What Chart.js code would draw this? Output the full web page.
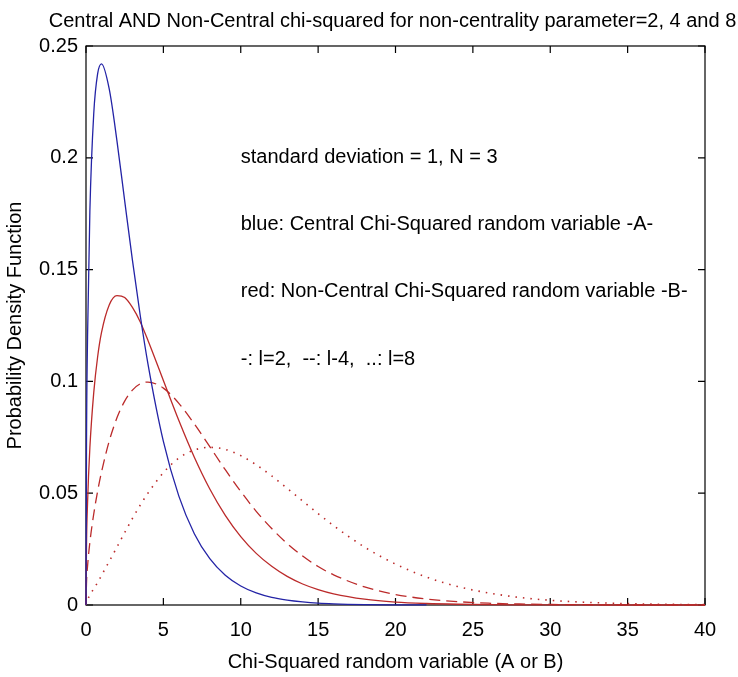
<!DOCTYPE html>
<html>
<head>
<meta charset="utf-8">
<script src="https://cdn.jsdelivr.net/npm/chart.js@4/dist/chart.umd.min.js"></script>
<style>
  html, body { margin: 0; padding: 0; background: #ffffff; }
  #c { display: block; }
</style>
</head>
<body>
<canvas id="c" width="738" height="677"></canvas>
<script>
// ---- data ----
const xValues = [0, 0.03, 0.1, 0.25, 0.5, 0.75, 1, 1.5, 2, 2.5, 3, 3.5, 4, 5, 6, 7, 8, 9, 10, 11, 12, 13, 14, 15, 16, 18, 20, 22, 24, 26, 28, 30, 32, 34, 36, 38, 40];

// blue: central chi-squared (A)
const centralA = [0, 0.0681, 0.1200, 0.1760, 0.2197, 0.2375, 0.2420, 0.2308, 0.2076, 0.1807, 0.1542, 0.1297, 0.1080, 0.0732, 0.0487, 0.0319, 0.0207, 0.0133, 0.0085, 0.0054, 0.0034, 0.0022, 0.0014, 0.00085, 0.00054, 0.00021, 0.00008, 0.00003, null, null, null, null, null, null, null, null, null];

// red solid: non-central, l = 2
const nonCentralL2 = [0, 0.0253, 0.0456, 0.0703, 0.0950, 0.1109, 0.1218, 0.1342, 0.1384, 0.1375, 0.1331, 0.1267, 0.1184, 0.1004, 0.0825, 0.0661, 0.0519, 0.0401, 0.0306, 0.0231, 0.0173, 0.0128, 0.0094, 0.0069, 0.0050, 0.0026, 0.0013, 0.00066, 0.00033, 0.00016, 0.00008, 0.00004, 0.00002, 0.00001, 0, 0, 0];

// red dashed: non-central, l = 4
const nonCentralL4 = [0, 0.0094, 0.0173, 0.0280, 0.0407, 0.0508, 0.0594, 0.0733, 0.0837, 0.0912, 0.0961, 0.0989, 0.0997, 0.0970, 0.0902, 0.0810, 0.0708, 0.0605, 0.0508, 0.0419, 0.0342, 0.0275, 0.0219, 0.0172, 0.0135, 0.0081, 0.0047, 0.0027, 0.0015, 0.0008, 0.00044, 0.00024, 0.00013, 0.00007, 0.00003, 0.00002, 0.00001];

// red dotted: non-central, l = 8
const nonCentralL8 = [0, 0.0013, 0.0025, 0.0044, 0.0073, 0.0100, 0.0132, 0.0195, 0.0259, 0.0324, 0.0387, 0.0446, 0.0500, 0.0592, 0.0657, 0.0693, 0.0705, 0.0696, 0.0668, 0.0627, 0.0577, 0.0522, 0.0465, 0.0409, 0.0355, 0.0259, 0.0183, 0.0125, 0.0083, 0.0054, 0.0034, 0.0021, 0.0013, 0.0008, 0.00046, 0.00027, 0.00016];

const xTickLabels = ['0', '5', '10', '15', '20', '25', '30', '35', '40'];
const yTickLabels = ['0', '0.05', '0.1', '0.15', '0.2', '0.25'];

const titleText = 'Central AND Non-Central chi-squared for non-centrality parameter=2, 4 and 8';
const xAxisTitle = 'Chi-Squared random variable (A or B)';
const yAxisTitle = 'Probability Density Function';

const noteLines = [
  'standard deviation = 1, N = 3',
  'blue: Central Chi-Squared random variable -A-',
  'red: Non-Central Chi-Squared random variable -B-',
  '-: l=2,  --: l-4,  ..: l=8'
];
const noteX = 10;
const noteY = [0.2, 0.17, 0.14, 0.11];

// ---- build ----
const FONT = '"Liberation Sans", Arial, Helvetica, sans-serif';
const FS = 20;
const BLUE = '#2323a6';
const RED = '#bb2a2a';

function pts(ys) {
  return xValues.map((x, i) => ({ x: x, y: ys[i] }));
}

const boxPlugin = {
  id: 'matlabBox',
  beforeDatasetsDraw(chart) {
    const { ctx, chartArea: a, scales } = chart;
    const xs = scales.x, ys = scales.y;
    ctx.save();
    ctx.strokeStyle = '#000';
    ctx.lineWidth = 1.2;
    ctx.strokeRect(a.left, a.top, a.right - a.left, a.bottom - a.top);
    const tl = 7;
    ctx.beginPath();
    xs.ticks.forEach(t => {
      const px = xs.getPixelForValue(t.value);
      ctx.moveTo(px, a.bottom); ctx.lineTo(px, a.bottom - tl);
      ctx.moveTo(px, a.top); ctx.lineTo(px, a.top + tl);
    });
    ys.ticks.forEach(t => {
      const py = ys.getPixelForValue(t.value);
      ctx.moveTo(a.left, py); ctx.lineTo(a.left + tl, py);
      ctx.moveTo(a.right, py); ctx.lineTo(a.right - tl, py);
    });
    ctx.stroke();
    ctx.restore();
  },
  afterDatasetsDraw(chart) {
    const { ctx, scales, chartArea: a } = chart;
    ctx.save();
    ctx.fillStyle = '#000';
    ctx.font = FS + 'px ' + FONT;
    ctx.textAlign = 'left';
    ctx.textBaseline = 'middle';
    noteLines.forEach((s, i) => {
      ctx.fillText(s, scales.x.getPixelForValue(noteX), scales.y.getPixelForValue(noteY[i]));
    });
    ctx.textAlign = 'center';
    ctx.textBaseline = 'alphabetic';
    ctx.fillText(titleText, (a.left + a.right) / 2 - 3, 27);
    ctx.restore();
  }
};

new Chart(document.getElementById('c'), {
  type: 'line',
  data: {
    datasets: [
      { label: 'A', data: pts(centralA), borderColor: BLUE, borderWidth: 1.3 },
      { label: 'B l=2', data: pts(nonCentralL2), borderColor: RED, borderWidth: 1.3 },
      { label: 'B l=4', data: pts(nonCentralL4), borderColor: RED, borderWidth: 1.3, borderDash: [11, 6] },
      { label: 'B l=8', data: pts(nonCentralL8), borderColor: RED, borderWidth: 1.6, borderDash: [1.5, 6] }
    ]
  },
  options: {
    responsive: false,
    animation: false,
    devicePixelRatio: 1,
    spanGaps: false,
    layout: { padding: { left: 0, right: 33, top: 46, bottom: 0 } },
    elements: {
      point: { radius: 0, hoverRadius: 0 },
      line: { tension: 0.4, cubicInterpolationMode: 'monotone', fill: false }
    },
    datasets: { line: { clip: 4 } },
    plugins: {
      legend: { display: false },
      tooltip: { enabled: false },
      title: { display: false }
    },
    scales: {
      x: {
        type: 'linear',
        min: 0, max: 40,
        grid: { display: false, drawTicks: false },
        border: { display: false },
        ticks: {
          stepSize: 5,
          color: '#000',
          padding: 13,
          maxRotation: 0,
          font: { family: FONT, size: FS },
          callback: (v, i) => xTickLabels[i]
        },
        title: {
          display: true,
          text: xAxisTitle,
          color: '#000',
          font: { family: FONT, size: FS },
          padding: { top: 0, bottom: 3 }
        },
        afterFit: s => { s.height = 72; }
      },
      y: {
        type: 'linear',
        min: 0, max: 0.25,
        grid: { display: false, drawTicks: false },
        border: { display: false },
        ticks: {
          stepSize: 0.05,
          color: '#000',
          padding: 8,
          font: { family: FONT, size: FS },
          callback: (v, i) => yTickLabels[i]
        },
        title: {
          display: true,
          text: yAxisTitle,
          color: '#000',
          font: { family: FONT, size: FS },
          padding: { top: 3, bottom: 0 }
        },
        afterFit: s => { s.width = 86; }
      }
    }
  },
  plugins: [boxPlugin]
});
</script>
</body>
</html>
